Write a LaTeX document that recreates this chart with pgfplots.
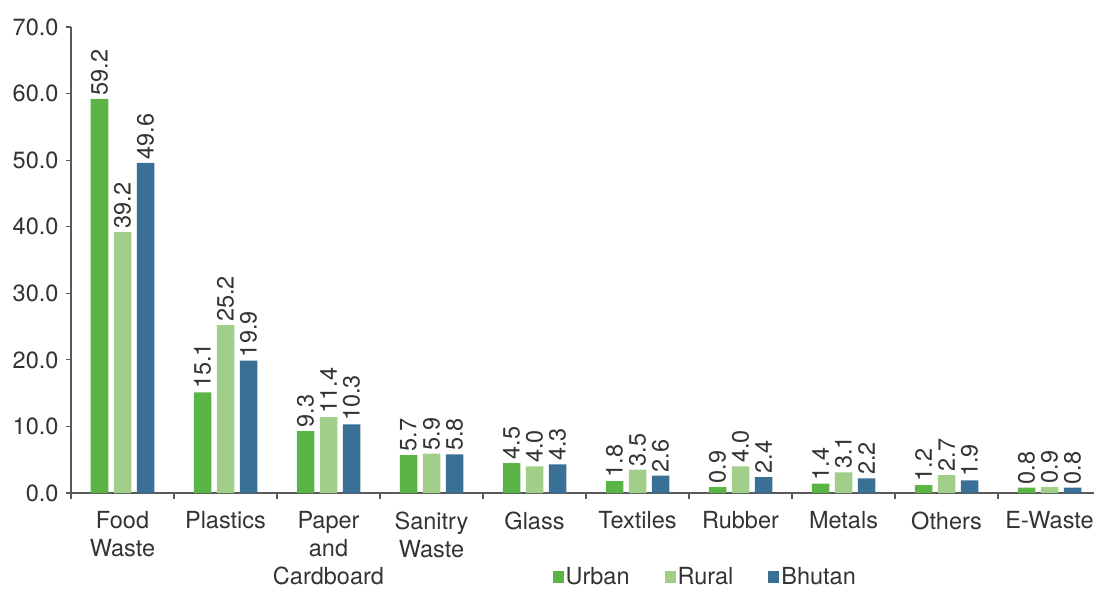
\documentclass[border=0pt]{standalone}
\usepackage{fontspec}
\setmainfont{TeX Gyre Heros}
\usepackage{pgfplots}
\pgfplotsset{compat=1.18}
\definecolor{urban}{HTML}{5BB446}
\definecolor{rural}{HTML}{A1CF8A}
\definecolor{bhutan}{HTML}{3A6F96}
\definecolor{txt}{HTML}{333333}
\definecolor{axln}{HTML}{595959}
\newcommand\lbl{\fontsize{23.5}{28}\selectfont}
\pgfplotsset{sq legend/.style={legend image code/.code={\fill[##1] (0pt,-6pt) rectangle (11pt,6pt);}}}

\begin{document}
\begin{tikzpicture}
\begin{axis}[name=ax, scale only axis, width=1023pt, height=466pt,
  ybar=5.5pt, bar width=17.5pt,
  xmin=-0.5, xmax=9.432, ymin=0, ymax=70,
  axis x line*=bottom, axis y line*=left,
  axis line style={axln, line width=1.2pt},
  ytick={0,10,...,70},
  yticklabel={\pgfmathprintnumber[fixed,fixed zerofill,precision=1,assume math mode=true]{\tick}},
  yticklabel style={xshift=-4pt},
  xtick={0,...,9},
  xticklabels={Food\\Waste, Plastics, Paper\\and\\Cardboard, Sanitry\\Waste, Glass, Textiles, Rubber, Metals, Others, E-Waste},
  xticklabel style={align=center, anchor=north, yshift=-10pt},
  minor xtick={-0.5,0.5,...,9.5},
  major x tick style={draw=none},
  tick align=outside,
  minor tick length=6pt, major tick length=5pt,
  tick style={axln, line width=1.2pt},
  tick label style={font=\lbl, text=txt},
  nodes near coords={\pgfmathprintnumber[fixed,fixed zerofill,precision=1,assume math mode=true]{\pgfplotspointmeta}},
  every node near coord/.append style={rotate=90, anchor=west, font=\lbl, text=txt},
  legend columns=-1,
  legend style={at={(0.62,0)}, anchor=center, yshift=-84pt, draw=none, fill=none,
    font=\lbl, text=txt, /tikz/every even column/.append style={column sep=33pt}},
]
\addplot[fill=urban, draw=none, sq legend] coordinates {(0,59.2)(1,15.1)(2,9.3)(3,5.7)(4,4.5)(5,1.8)(6,0.9)(7,1.4)(8,1.2)(9,0.8)};
\addlegendentry{Urban}
\addplot[fill=rural, draw=none, sq legend] coordinates {(0,39.2)(1,25.2)(2,11.4)(3,5.9)(4,4.0)(5,3.5)(6,4.0)(7,3.1)(8,2.7)(9,0.9)};
\addlegendentry{Rural}
\addplot[fill=bhutan, draw=none, sq legend] coordinates {(0,49.6)(1,19.9)(2,10.3)(3,5.8)(4,4.3)(5,2.6)(6,2.4)(7,2.2)(8,1.9)(9,0.8)};
\addlegendentry{Bhutan}
\end{axis}
\pgfresetboundingbox
\path ([shift={(-71pt,-96pt)}]ax.south west) rectangle ([shift={(0pt,27pt)}]ax.north east);
\end{tikzpicture}
\end{document}
